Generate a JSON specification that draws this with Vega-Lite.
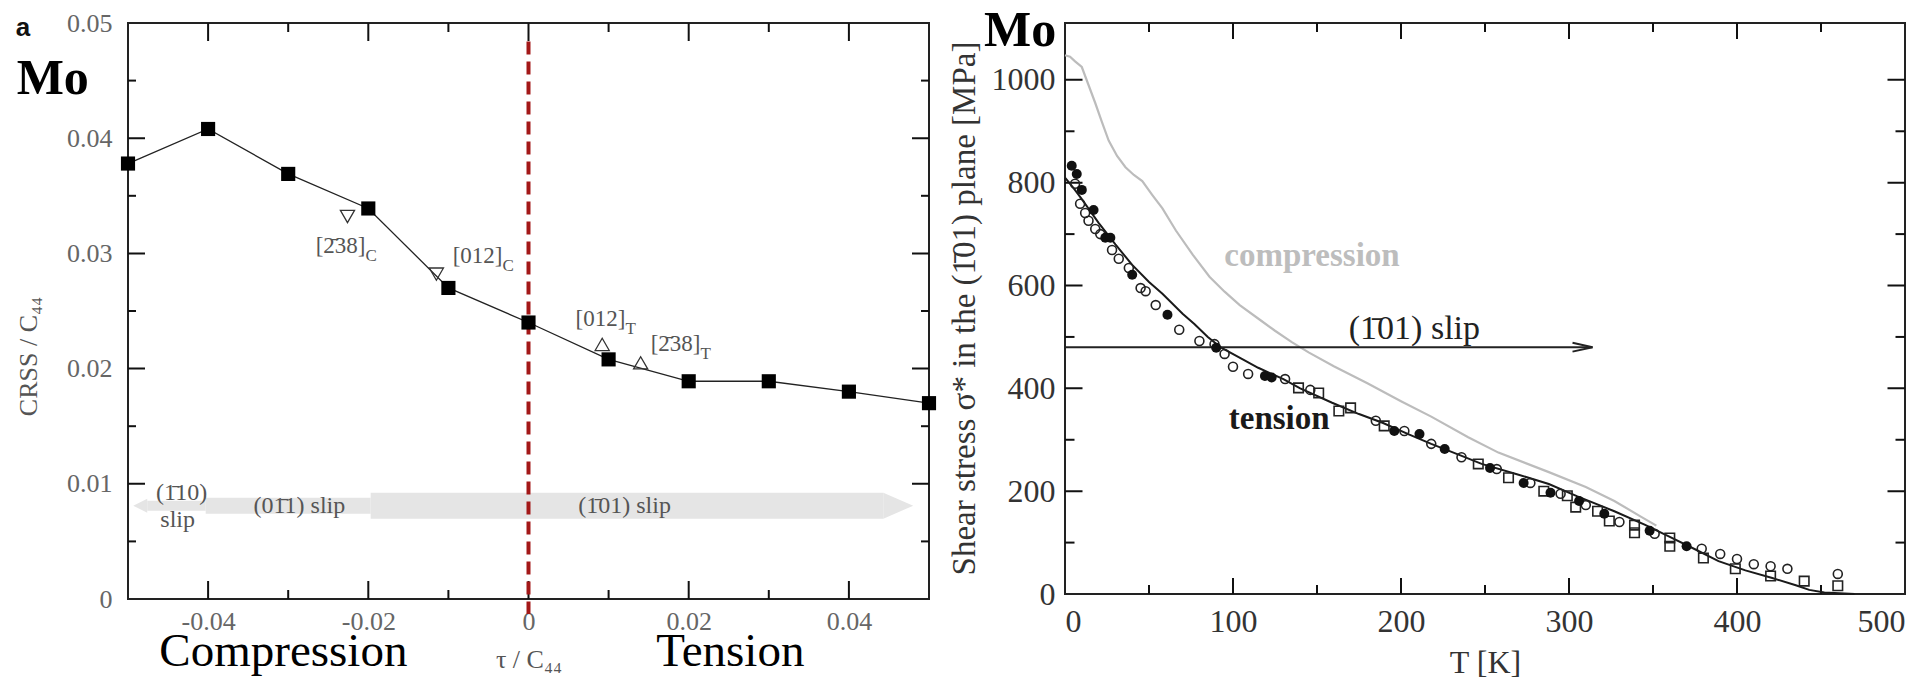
{
  "$schema": "https://vega.github.io/schema/vega-lite/v6.json",
  "padding": {"left": 14, "top": 4, "right": 0, "bottom": 0},
  "spacing": 9,
  "background": "white",
  "config": {
    "view": {"stroke": "#222", "strokeWidth": 2},
    "font": "Liberation Serif",
    "axis": {"grid": false, "domain": false, "ticks": false, "labelFont": "Liberation Serif", "titleFont": "Liberation Serif", "titleFontWeight": "normal"}
  },
  "datasets": {
    "crss": [
      {"x": -0.05, "y": 0.0378}, {"x": -0.04, "y": 0.0408}, {"x": -0.03, "y": 0.0369}, {"x": -0.02, "y": 0.0339},
      {"x": -0.01, "y": 0.0270}, {"x": 0, "y": 0.0240}, {"x": 0.01, "y": 0.0208}, {"x": 0.02, "y": 0.0189},
      {"x": 0.03, "y": 0.0189}, {"x": 0.04, "y": 0.0180}, {"x": 0.05, "y": 0.0170}
    ],
    "lTicksX": [
      {"x": -0.04, "y": 0, "kind": "major"}, {"x": -0.03, "y": 0, "kind": "minor"}, {"x": -0.02, "y": 0, "kind": "major"},
      {"x": -0.01, "y": 0, "kind": "minor"}, {"x": 0, "y": 0, "kind": "major"}, {"x": 0.01, "y": 0, "kind": "minor"},
      {"x": 0.02, "y": 0, "kind": "major"}, {"x": 0.03, "y": 0, "kind": "minor"}, {"x": 0.04, "y": 0, "kind": "major"},
      {"x": -0.04, "y": 0.05, "kind": "major"}, {"x": -0.03, "y": 0.05, "kind": "minor"}, {"x": -0.02, "y": 0.05, "kind": "major"},
      {"x": -0.01, "y": 0.05, "kind": "minor"}, {"x": 0, "y": 0.05, "kind": "major"}, {"x": 0.01, "y": 0.05, "kind": "minor"},
      {"x": 0.02, "y": 0.05, "kind": "major"}, {"x": 0.03, "y": 0.05, "kind": "minor"}, {"x": 0.04, "y": 0.05, "kind": "major"}
    ],
    "lTicksY": [
      {"x": -0.05, "y": 0.005, "kind": "minor"}, {"x": -0.05, "y": 0.01, "kind": "major"}, {"x": -0.05, "y": 0.015, "kind": "minor"},
      {"x": -0.05, "y": 0.02, "kind": "major"}, {"x": -0.05, "y": 0.025, "kind": "minor"}, {"x": -0.05, "y": 0.03, "kind": "major"},
      {"x": -0.05, "y": 0.035, "kind": "minor"}, {"x": -0.05, "y": 0.04, "kind": "major"}, {"x": -0.05, "y": 0.045, "kind": "minor"},
      {"x": 0.05, "y": 0.005, "kind": "minor"}, {"x": 0.05, "y": 0.01, "kind": "major"}, {"x": 0.05, "y": 0.015, "kind": "minor"},
      {"x": 0.05, "y": 0.02, "kind": "major"}, {"x": 0.05, "y": 0.025, "kind": "minor"}, {"x": 0.05, "y": 0.03, "kind": "major"},
      {"x": 0.05, "y": 0.035, "kind": "minor"}, {"x": 0.05, "y": 0.04, "kind": "major"}, {"x": 0.05, "y": 0.045, "kind": "minor"}
    ],
    "orient": [
      {"x": -0.0226, "y": 0.0332, "loading": "compression"},
      {"x": -0.0115, "y": 0.0282, "loading": "compression"},
      {"x": 0.0092, "y": 0.0221, "loading": "tension"},
      {"x": 0.0140, "y": 0.0205, "loading": "tension"}
    ],
    "orientLabels": [
      {"x": -0.02035, "y": 0.0300, "text": "[2\u030438]", "sub": "C"},
      {"x": -0.00325, "y": 0.0292, "text": "[012]", "sub": "C"},
      {"x": 0.0121, "y": 0.0237, "text": "[012]", "sub": "T"},
      {"x": 0.02147, "y": 0.02153, "text": "[2\u030438]", "sub": "T"}
    ],
    "bands": [
      {"name": "T01", "x": -0.0197, "x2": 0.0443, "y": 0.0081},
      {"name": "0T1", "x": -0.0403, "x2": -0.0197, "y": 0.0081},
      {"name": "T10", "x": -0.0476, "x2": -0.0403, "y": 0.0081}
    ],
    "bandHeads": [
      {"name": "T01", "x": 0.0443, "y": 0.0081},
      {"name": "T10", "x": -0.0476, "y": 0.0081}
    ],
    "slipLabels": [
      {"x": -0.0433, "y": 0.0092, "text": "(1\u030410)"},
      {"x": -0.0438, "y": 0.0069, "text": "slip"},
      {"x": -0.0286, "y": 0.0081, "text": "(01\u03041) slip"},
      {"x": 0.0120, "y": 0.0081, "text": "(1\u030401) slip"}
    ],
    "zeroLine": [{"x": 0, "y": 0.0484, "y2": -0.0013}],
    "panelA": [{"x": -0.0640, "y": 0.0489, "text": "a"}],
    "moLeft": [{"x": -0.0639, "y": 0.0438, "text": "Mo"}],
    "regimes": [
      {"x": -0.0306, "y": -0.0058, "text": "Compression"},
      {"x": 0.0252, "y": -0.0058, "text": "Tension"}
    ],
    "rTicksX": [
      {"T": 50, "s": 0, "kind": "minor"}, {"T": 100, "s": 0, "kind": "major"}, {"T": 150, "s": 0, "kind": "minor"},
      {"T": 200, "s": 0, "kind": "major"}, {"T": 250, "s": 0, "kind": "minor"}, {"T": 300, "s": 0, "kind": "major"},
      {"T": 350, "s": 0, "kind": "minor"}, {"T": 400, "s": 0, "kind": "major"}, {"T": 450, "s": 0, "kind": "minor"},
      {"T": 50, "s": 1110.6, "kind": "minor"}, {"T": 100, "s": 1110.6, "kind": "major"}, {"T": 150, "s": 1110.6, "kind": "minor"},
      {"T": 200, "s": 1110.6, "kind": "major"}, {"T": 250, "s": 1110.6, "kind": "minor"}, {"T": 300, "s": 1110.6, "kind": "major"},
      {"T": 350, "s": 1110.6, "kind": "minor"}, {"T": 400, "s": 1110.6, "kind": "major"}, {"T": 450, "s": 1110.6, "kind": "minor"}
    ],
    "rTicksY": [
      {"T": 0, "s": 100, "kind": "minor"}, {"T": 0, "s": 200, "kind": "major"}, {"T": 0, "s": 300, "kind": "minor"},
      {"T": 0, "s": 400, "kind": "major"}, {"T": 0, "s": 500, "kind": "minor"}, {"T": 0, "s": 600, "kind": "major"},
      {"T": 0, "s": 700, "kind": "minor"}, {"T": 0, "s": 800, "kind": "major"}, {"T": 0, "s": 900, "kind": "minor"},
      {"T": 0, "s": 1000, "kind": "major"},
      {"T": 500, "s": 100, "kind": "minor"}, {"T": 500, "s": 200, "kind": "major"}, {"T": 500, "s": 300, "kind": "minor"},
      {"T": 500, "s": 400, "kind": "major"}, {"T": 500, "s": 500, "kind": "minor"}, {"T": 500, "s": 600, "kind": "major"},
      {"T": 500, "s": 700, "kind": "minor"}, {"T": 500, "s": 800, "kind": "major"}, {"T": 500, "s": 900, "kind": "minor"},
      {"T": 500, "s": 1000, "kind": "major"}
    ],
    "compCurve": [
      {"T": 0, "s": 1048}, {"T": 3, "s": 1045}, {"T": 6, "s": 1036}, {"T": 10, "s": 1025}, {"T": 14, "s": 990},
      {"T": 18, "s": 955}, {"T": 22, "s": 918}, {"T": 26, "s": 882}, {"T": 31, "s": 852}, {"T": 36, "s": 830},
      {"T": 41, "s": 815}, {"T": 46, "s": 803}, {"T": 52, "s": 776}, {"T": 58, "s": 750}, {"T": 66, "s": 707},
      {"T": 76, "s": 660}, {"T": 86, "s": 617}, {"T": 95, "s": 588}, {"T": 104, "s": 562}, {"T": 117, "s": 531},
      {"T": 125, "s": 512}, {"T": 135, "s": 490}, {"T": 145, "s": 470}, {"T": 160, "s": 443}, {"T": 180, "s": 410},
      {"T": 200, "s": 375}, {"T": 218, "s": 345}, {"T": 240, "s": 305}, {"T": 258, "s": 275}, {"T": 288, "s": 237},
      {"T": 310, "s": 208}, {"T": 327, "s": 181}, {"T": 343, "s": 150}, {"T": 352, "s": 133}
    ],
    "tensCurve": [
      {"T": 0, "s": 810}, {"T": 5, "s": 790}, {"T": 10, "s": 768}, {"T": 20, "s": 722}, {"T": 30, "s": 680},
      {"T": 40, "s": 640}, {"T": 50, "s": 607}, {"T": 58, "s": 584}, {"T": 70, "s": 545}, {"T": 77, "s": 525},
      {"T": 85, "s": 500}, {"T": 93, "s": 479}, {"T": 105, "s": 458}, {"T": 115, "s": 440}, {"T": 130, "s": 418},
      {"T": 140, "s": 400}, {"T": 159, "s": 372}, {"T": 175, "s": 350}, {"T": 189, "s": 333}, {"T": 205, "s": 310},
      {"T": 218, "s": 292}, {"T": 235, "s": 270}, {"T": 248, "s": 253}, {"T": 270, "s": 232}, {"T": 288, "s": 214},
      {"T": 305, "s": 190}, {"T": 327, "s": 161}, {"T": 345, "s": 135}, {"T": 360, "s": 111}, {"T": 375, "s": 87},
      {"T": 389, "s": 64}, {"T": 405, "s": 46}, {"T": 421, "s": 31}, {"T": 435, "s": 17}, {"T": 443, "s": 8},
      {"T": 452, "s": 3}, {"T": 470, "s": 0}
    ],
    "tensPts": [
      {"T": 4, "s": 833, "kind": "filled"}, {"T": 7, "s": 817, "kind": "filled"}, {"T": 10, "s": 786, "kind": "filled"},
      {"T": 17, "s": 747, "kind": "filled"}, {"T": 24, "s": 693, "kind": "filled"}, {"T": 27, "s": 693, "kind": "filled"},
      {"T": 40, "s": 621, "kind": "filled"}, {"T": 61, "s": 543, "kind": "filled"}, {"T": 90, "s": 479, "kind": "filled"},
      {"T": 119, "s": 424, "kind": "filled"}, {"T": 123, "s": 421, "kind": "filled"}, {"T": 196, "s": 317, "kind": "filled"},
      {"T": 211, "s": 311, "kind": "filled"}, {"T": 226, "s": 282, "kind": "filled"}, {"T": 253, "s": 245, "kind": "filled"},
      {"T": 273, "s": 216, "kind": "filled"}, {"T": 289, "s": 197, "kind": "filled"}, {"T": 306, "s": 181, "kind": "filled"},
      {"T": 321, "s": 156, "kind": "filled"}, {"T": 348, "s": 123, "kind": "filled"}, {"T": 370, "s": 93, "kind": "filled"},
      {"T": 6, "s": 798, "kind": "open"}, {"T": 9, "s": 759, "kind": "open"}, {"T": 12, "s": 741, "kind": "open"},
      {"T": 14, "s": 726, "kind": "open"}, {"T": 18, "s": 710, "kind": "open"}, {"T": 21, "s": 700, "kind": "open"},
      {"T": 28, "s": 669, "kind": "open"}, {"T": 32, "s": 652, "kind": "open"}, {"T": 38, "s": 634, "kind": "open"},
      {"T": 45, "s": 595, "kind": "open"}, {"T": 48, "s": 589, "kind": "open"}, {"T": 54, "s": 562, "kind": "open"},
      {"T": 68, "s": 514, "kind": "open"}, {"T": 80, "s": 492, "kind": "open"}, {"T": 89, "s": 486, "kind": "open"},
      {"T": 95, "s": 467, "kind": "open"}, {"T": 100, "s": 442, "kind": "open"}, {"T": 109, "s": 428, "kind": "open"},
      {"T": 131, "s": 418, "kind": "open"}, {"T": 146, "s": 397, "kind": "open"}, {"T": 185, "s": 337, "kind": "open"},
      {"T": 202, "s": 317, "kind": "open"}, {"T": 218, "s": 292, "kind": "open"}, {"T": 236, "s": 266, "kind": "open"},
      {"T": 257, "s": 243, "kind": "open"}, {"T": 277, "s": 216, "kind": "open"}, {"T": 295, "s": 195, "kind": "open"},
      {"T": 310, "s": 173, "kind": "open"}, {"T": 330, "s": 140, "kind": "open"}, {"T": 351, "s": 117, "kind": "open"},
      {"T": 379, "s": 88, "kind": "open"}, {"T": 390, "s": 78, "kind": "open"}, {"T": 400, "s": 68, "kind": "open"},
      {"T": 410, "s": 58, "kind": "open"}, {"T": 420, "s": 54, "kind": "open"}, {"T": 430, "s": 49, "kind": "open"},
      {"T": 460, "s": 39, "kind": "open"},
      {"T": 139, "s": 401, "kind": "square"}, {"T": 151, "s": 391, "kind": "square"}, {"T": 163, "s": 356, "kind": "square"},
      {"T": 170, "s": 362, "kind": "square"}, {"T": 190, "s": 327, "kind": "square"}, {"T": 246, "s": 253, "kind": "square"},
      {"T": 264, "s": 226, "kind": "square"}, {"T": 285, "s": 200, "kind": "square"}, {"T": 299, "s": 191, "kind": "square"},
      {"T": 304, "s": 169, "kind": "square"}, {"T": 317, "s": 161, "kind": "square"}, {"T": 324, "s": 142, "kind": "square"},
      {"T": 339, "s": 134, "kind": "square"}, {"T": 339, "s": 119, "kind": "square"}, {"T": 360, "s": 109, "kind": "square"},
      {"T": 360, "s": 93, "kind": "square"}, {"T": 380, "s": 70, "kind": "square"}, {"T": 399, "s": 49, "kind": "square"},
      {"T": 420, "s": 35, "kind": "square"}, {"T": 440, "s": 25, "kind": "square"}, {"T": 460, "s": 16, "kind": "square"}
    ],
    "slipArrow": [{"T": 0, "T2": 314, "s": 480}],
    "slipHead": [{"T": 314, "s": 480}],
    "slipText": [{"T": 208, "s": 496, "text": "(1\u030401) slip"}],
    "compText": [{"T": 147, "s": 638, "text": "compression"}],
    "tensText": [{"T": 127.5, "s": 321, "text": "tension"}],
    "moRight": [{"T": -48.2, "s": 1066, "text": "Mo"}]
  },
  "hconcat": [
    {
      "width": 801,
      "height": 576,
      "encoding": {
        "x": {"field": "x", "type": "quantitative", "scale": {"domain": [-0.05, 0.05], "nice": false, "zero": false},
              "axis": {"orient": "bottom", "values": [-0.04, -0.02, 0, 0.02, 0.04], "ticks": false,
                       "labelExpr": "datum.value == 0 ? '0' : replace(format(datum.value, '.2f'), '\u2212', '-')",
                       "labelFontSize": 26, "labelColor": "#666", "labelPadding": 9,
                       "title": "τ / C₄₄", "titleFontSize": 26, "titleColor": "#555", "titlePadding": 12}},
        "y": {"field": "y", "type": "quantitative", "scale": {"domain": [0, 0.05], "nice": false, "zero": false},
              "axis": {"orient": "left", "values": [0, 0.01, 0.02, 0.03, 0.04, 0.05], "ticks": false,
                       "labelExpr": "datum.value == 0 ? '0' : format(datum.value, '.2f')",
                       "labelFontSize": 26, "labelColor": "#666", "labelPadding": 16,
                       "title": "CRSS / C₄₄", "titleFontSize": 26, "titleColor": "#555",
                       "titleX": -100, "titleY": 333, "titleBaseline": "middle", "titleAlign": "center", "titleAngle": -90}}
      },
      "layer": [
        {"data": {"name": "bands"}, "transform": [{"filter": "datum.name == 'T01'"}],
         "mark": {"type": "rule", "color": "#e5e5e5", "strokeWidth": 26}, "encoding": {"x2": {"field": "x2"}}},
        {"data": {"name": "bands"}, "transform": [{"filter": "datum.name == '0T1'"}],
         "mark": {"type": "rule", "color": "#e5e5e5", "strokeWidth": 16}, "encoding": {"x2": {"field": "x2"}}},
        {"data": {"name": "bands"}, "transform": [{"filter": "datum.name == 'T10'"}],
         "mark": {"type": "rule", "color": "#e5e5e5", "strokeWidth": 10}, "encoding": {"x2": {"field": "x2"}}},
        {"data": {"name": "bandHeads"}, "transform": [{"filter": "datum.name == 'T01'"}],
         "mark": {"type": "point", "shape": "M 0 -1 L 2.3 0 L 0 1 Z", "filled": true, "color": "#e5e5e5", "opacity": 1, "size": 676}},
        {"data": {"name": "bandHeads"}, "transform": [{"filter": "datum.name == 'T10'"}],
         "mark": {"type": "point", "shape": "M 0 -1 L -2 0 L 0 1 Z", "filled": true, "color": "#e5e5e5", "opacity": 1, "size": 196}},
        {"data": {"name": "slipLabels"},
         "mark": {"type": "text", "fontSize": 24, "color": "#555", "align": "center", "baseline": "middle", "font": "Liberation Serif"},
         "encoding": {"text": {"field": "text"}}},
        {"data": {"name": "lTicksX"}, "transform": [{"filter": "datum.kind == 'major'"}],
         "mark": {"type": "tick", "orient": "vertical", "size": 36, "thickness": 2, "color": "#111", "opacity": 1, "clip": true}},
        {"data": {"name": "lTicksX"}, "transform": [{"filter": "datum.kind == 'minor'"}],
         "mark": {"type": "tick", "orient": "vertical", "size": 18, "thickness": 2, "color": "#111", "opacity": 1, "clip": true}},
        {"data": {"name": "lTicksY"}, "transform": [{"filter": "datum.kind == 'major'"}],
         "mark": {"type": "tick", "orient": "horizontal", "size": 34, "thickness": 2, "color": "#111", "opacity": 1, "clip": true}},
        {"data": {"name": "lTicksY"}, "transform": [{"filter": "datum.kind == 'minor'"}],
         "mark": {"type": "tick", "orient": "horizontal", "size": 16, "thickness": 2, "color": "#111", "opacity": 1, "clip": true}},
        {"data": {"name": "zeroLine"},
         "mark": {"type": "rule", "color": "#a31818", "strokeWidth": 4, "strokeDash": [13, 7], "clip": false},
         "encoding": {"y2": {"field": "y2"}}},
        {"data": {"name": "crss"},
         "mark": {"type": "line", "color": "#222", "strokeWidth": 1.3}},
        {"data": {"name": "crss"},
         "mark": {"type": "point", "shape": "square", "filled": true, "color": "#000", "opacity": 1, "size": 200}},
        {"data": {"name": "orient"},
         "mark": {"type": "point", "filled": false, "color": "#333", "strokeWidth": 1.3, "opacity": 1, "size": 200},
         "encoding": {"shape": {"field": "loading", "type": "nominal", "scale": {"domain": ["compression", "tension"], "range": ["triangle-down", "triangle-up"]}, "legend": null}}},
        {"data": {"name": "orientLabels"},
         "mark": {"type": "text", "fontSize": 23, "color": "#555", "align": "right", "baseline": "alphabetic", "font": "Liberation Serif"},
         "encoding": {"text": {"field": "text"}}},
        {"data": {"name": "orientLabels"},
         "mark": {"type": "text", "fontSize": 17, "color": "#555", "align": "left", "baseline": "alphabetic", "dy": 8, "font": "Liberation Serif"},
         "encoding": {"text": {"field": "sub"}}},
        {"data": {"name": "panelA"},
         "mark": {"type": "text", "fontSize": 26, "fontWeight": "bold", "color": "#111", "align": "left", "baseline": "alphabetic", "font": "Liberation Sans"},
         "encoding": {"text": {"field": "text"}}},
        {"data": {"name": "moLeft"},
         "mark": {"type": "text", "fontSize": 50, "fontWeight": "bold", "color": "#000", "align": "left", "baseline": "alphabetic", "font": "Liberation Serif"},
         "encoding": {"text": {"field": "text"}}},
        {"data": {"name": "regimes"},
         "mark": {"type": "text", "fontSize": 47, "color": "#000", "align": "center", "baseline": "alphabetic", "font": "Liberation Serif"},
         "encoding": {"text": {"field": "text"}}}
      ]
    },
    {
      "width": 840,
      "height": 571,
      "encoding": {
        "x": {"field": "T", "type": "quantitative", "scale": {"domain": [0, 500], "nice": false, "zero": false},
              "axis": {"orient": "bottom", "values": [0, 100, 200, 300, 400, 500], "ticks": false,
                       "labelFontSize": 32, "labelColor": "#333", "labelPadding": 12,
                       "title": "T [K]", "titleFontSize": 32, "titleColor": "#333", "titlePadding": 10}},
        "y": {"field": "s", "type": "quantitative", "scale": {"domain": [0, 1110.6], "nice": false, "zero": false},
              "axis": {"orient": "left", "values": [0, 200, 400, 600, 800, 1000], "ticks": false,
                       "labelExpr": "format(datum.value, 'd')",
                       "labelFontSize": 32, "labelColor": "#333", "labelPadding": 10,
                       "title": "Shear stress σ* in the (1\u030401) plane [MPa]", "titleFontSize": 33, "titleColor": "#333",
                       "titleX": -101, "titleY": 285, "titleBaseline": "middle", "titleAlign": "center", "titleAngle": -90}}
      },
      "layer": [
        {"data": {"name": "rTicksX"}, "transform": [{"filter": "datum.kind == 'major'"}],
         "mark": {"type": "tick", "orient": "vertical", "size": 32, "thickness": 2, "color": "#111", "opacity": 1, "clip": true}},
        {"data": {"name": "rTicksX"}, "transform": [{"filter": "datum.kind == 'minor'"}],
         "mark": {"type": "tick", "orient": "vertical", "size": 18, "thickness": 2, "color": "#111", "opacity": 1, "clip": true}},
        {"data": {"name": "rTicksY"}, "transform": [{"filter": "datum.kind == 'major'"}],
         "mark": {"type": "tick", "orient": "horizontal", "size": 35, "thickness": 2, "color": "#111", "opacity": 1, "clip": true}},
        {"data": {"name": "rTicksY"}, "transform": [{"filter": "datum.kind == 'minor'"}],
         "mark": {"type": "tick", "orient": "horizontal", "size": 19, "thickness": 2, "color": "#111", "opacity": 1, "clip": true}},
        {"data": {"name": "compCurve"},
         "mark": {"type": "line", "color": "#bcbcbc", "strokeWidth": 2.2}},
        {"data": {"name": "tensCurve"},
         "mark": {"type": "line", "color": "#1a1a1a", "strokeWidth": 2}},
        {"data": {"name": "slipArrow"},
         "mark": {"type": "rule", "color": "#222", "strokeWidth": 2},
         "encoding": {"x2": {"field": "T2"}}},
        {"data": {"name": "slipHead"},
         "mark": {"type": "point", "shape": "M -1 -0.22 L 0 0 L -1 0.22", "filled": false, "color": "#222", "strokeWidth": 2, "opacity": 1, "size": 1600}},
        {"data": {"name": "tensPts"}, "transform": [{"filter": "datum.kind == 'open'"}],
         "mark": {"type": "point", "shape": "circle", "filled": false, "color": "#222", "strokeWidth": 1.6, "opacity": 1, "size": 80}},
        {"data": {"name": "tensPts"}, "transform": [{"filter": "datum.kind == 'square'"}],
         "mark": {"type": "point", "shape": "square", "filled": false, "color": "#222", "strokeWidth": 1.6, "opacity": 1, "size": 90}},
        {"data": {"name": "tensPts"}, "transform": [{"filter": "datum.kind == 'filled'"}],
         "mark": {"type": "point", "shape": "circle", "filled": true, "color": "#111", "opacity": 1, "size": 100}},
        {"data": {"name": "slipText"},
         "mark": {"type": "text", "fontSize": 34, "color": "#222", "align": "center", "baseline": "alphabetic", "font": "Liberation Serif"},
         "encoding": {"text": {"field": "text"}}},
        {"data": {"name": "compText"},
         "mark": {"type": "text", "fontSize": 33, "fontWeight": "bold", "color": "#bdbdbd", "align": "center", "baseline": "alphabetic", "font": "Liberation Serif"},
         "encoding": {"text": {"field": "text"}}},
        {"data": {"name": "tensText"},
         "mark": {"type": "text", "fontSize": 33, "fontWeight": "bold", "color": "#1a1a1a", "align": "center", "baseline": "alphabetic", "font": "Liberation Serif"},
         "encoding": {"text": {"field": "text"}}},
        {"data": {"name": "moRight"},
         "mark": {"type": "text", "fontSize": 50, "fontWeight": "bold", "color": "#000", "align": "left", "baseline": "alphabetic", "font": "Liberation Serif"},
         "encoding": {"text": {"field": "text"}}}
      ]
    }
  ]
}
